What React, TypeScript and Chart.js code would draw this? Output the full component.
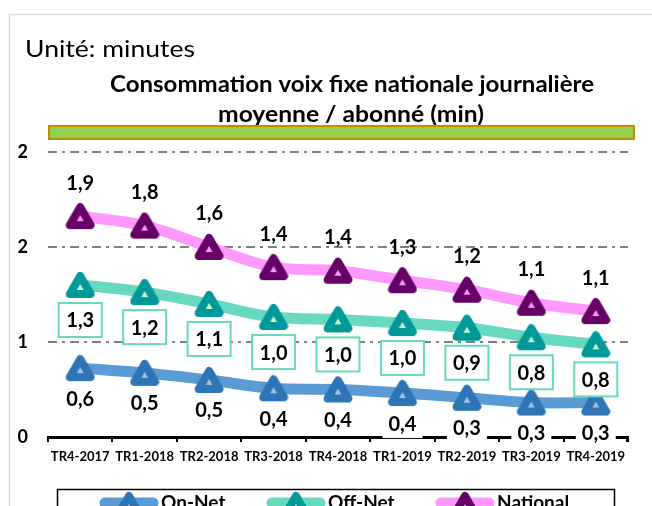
import React, { useEffect, useRef } from "react";
import { Chart, registerables } from "chart.js";

Chart.register(...registerables);

const categories = [
  "TR4-2017", "TR1-2018", "TR2-2018", "TR3-2018", "TR4-2018",
  "TR1-2019", "TR2-2019", "TR3-2019", "TR4-2019",
];
const onNet = [0.58, 0.54, 0.48, 0.41, 0.4, 0.37, 0.33, 0.29, 0.29];
const offNet = [1.28, 1.22, 1.12, 1.01, 0.99, 0.96, 0.92, 0.84, 0.78];
const national = [1.86, 1.78, 1.6, 1.43, 1.4, 1.32, 1.24, 1.13, 1.06];
const seriesNames = ["On-Net", "Off-Net", "National"];
const yMin = 0;
const yMax = 2.4;
const yStep = 0.8;
const unitText = "Unité: minutes";
const titleLines = ["Consommation voix fixe nationale journalière", "moyenne / abonné (min)"];

const FONT = "Lato, 'Noto Sans', sans-serif";

function makeMarker(border: string, fill: string): HTMLCanvasElement {
  const c = document.createElement("canvas");
  const r = 12;
  const lw = 8;
  const W = 30;
  const H = 28;
  c.width = W;
  c.height = H;
  const ctx = c.getContext("2d")!;
  const cx = W / 2;
  const cy = H / 2 + r / 4;
  ctx.beginPath();
  ctx.moveTo(cx, cy - r);
  ctx.lineTo(cx + r * 0.866, cy + r / 2);
  ctx.lineTo(cx - r * 0.866, cy + r / 2);
  ctx.closePath();
  ctx.fillStyle = fill;
  ctx.fill();
  ctx.lineJoin = "round";
  ctx.lineWidth = lw;
  ctx.strokeStyle = border;
  ctx.stroke();
  return c;
}

function drawFit(
  ctx: CanvasRenderingContext2D,
  text: string,
  x: number,
  y: number,
  w: number,
  font: string,
  align: "left" | "center"
) {
  ctx.save();
  ctx.font = font;
  ctx.fillStyle = "#000";
  ctx.textBaseline = "alphabetic";
  ctx.textAlign = "left";
  const m = ctx.measureText(text).width;
  const s = w / m;
  const left = align === "center" ? x - w / 2 : x;
  ctx.translate(left, y);
  ctx.scale(s, 1);
  ctx.fillText(text, 0, 0);
  ctx.restore();
}

const labelStyles = [
  { dy: 30, w: 40, h: 30, border: null as string | null, bg: "#ffffff" as string | null },
  { dy: 35, w: 43, h: 34, border: "#66d9bf" as string | null, bg: "#ffffff" as string | null },
  { dy: -34, w: 0, h: 0, border: null as string | null, bg: null as string | null },
];

const legendItems = [
  { x1: 100, x2: 158, tx: 161 },
  { x1: 267, x2: 325, tx: 328 },
  { x1: 436, x2: 494, tx: 497 },
];

export default function App() {
  const ref = useRef<HTMLCanvasElement | null>(null);

  useEffect(() => {
    const canvas = ref.current;
    if (!canvas) return;

    const markerOn = makeMarker("#2e75b6", "#9dc3e6");
    const markerOff = makeMarker("#009999", "#ccf5cc");
    const markerNat = makeMarker("#660066", "#ff99ff");

    const backgroundPlugin = {
      id: "bgTitle",
      beforeDraw(chart: any) {
        const ctx = chart.ctx as CanvasRenderingContext2D;
        ctx.save();
        ctx.fillStyle = "#ffffff";
        ctx.fillRect(0, 0, chart.width, chart.height);
        ctx.strokeStyle = "#d9d9d9";
        ctx.lineWidth = 1.5;
        ctx.strokeRect(9.5, 14.5, 800, 600);
        ctx.restore();
        drawFit(ctx, unitText, 25, 57, 170, `23px ${FONT}`, "left");
        drawFit(ctx, titleLines[0], 352, 92, 484, `bold 22px ${FONT}`, "center");
        drawFit(ctx, titleLines[1], 351, 122, 266, `bold 22px ${FONT}`, "center");
        ctx.save();
        ctx.fillStyle = "#92d050";
        ctx.strokeStyle = "#bf9000";
        ctx.lineWidth = 2;
        ctx.fillRect(49, 126, 585, 13);
        ctx.strokeRect(49, 126, 585, 13);
        ctx.restore();
      },
      beforeDatasetsDraw(chart: any) {
        const ctx = chart.ctx as CanvasRenderingContext2D;
        const a = chart.chartArea;
        ctx.save();
        ctx.strokeStyle = "#000";
        ctx.lineWidth = 2;
        ctx.beginPath();
        ctx.moveTo(a.right - 1, a.bottom);
        ctx.lineTo(a.right - 1, a.bottom + 5);
        ctx.stroke();
        ctx.restore();
      },
    };

    const labelPlugin = {
      id: "dataLabels",
      afterDatasetsDraw(chart: any) {
        const ctx = chart.ctx as CanvasRenderingContext2D;
        ctx.save();
        chart.data.datasets.forEach((ds: any, di: number) => {
          const meta = chart.getDatasetMeta(di);
          const st = labelStyles[di];
          meta.data.forEach((pt: any, i: number) => {
            const v = ds.data[i] as number;
            const txt = v.toFixed(1).replace(".", ",");
            const x = pt.x;
            const y = pt.y + st.dy;
            if (st.bg) {
              ctx.fillStyle = st.bg;
              ctx.fillRect(x - st.w / 2, y - st.h / 2, st.w, st.h);
            }
            if (st.border) {
              ctx.strokeStyle = st.border;
              ctx.lineWidth = 2;
              ctx.strokeRect(x - st.w / 2, y - st.h / 2, st.w, st.h);
            }
            ctx.fillStyle = "#000";
            ctx.font = `bold 20px ${FONT}`;
            ctx.textAlign = "center";
            ctx.textBaseline = "middle";
            ctx.fillText(txt, x, y + 1);
          });
        });
        ctx.restore();
      },
      afterDraw(chart: any) {
        const ctx = chart.ctx as CanvasRenderingContext2D;
        ctx.save();
        ctx.strokeStyle = "#000";
        ctx.lineWidth = 1.5;
        ctx.strokeRect(57.5, 489.5, 557, 40);
        chart.data.datasets.forEach((ds: any, di: number) => {
          const it = legendItems[di];
          ctx.strokeStyle = ds.borderColor;
          ctx.lineWidth = 11;
          ctx.lineCap = "round";
          ctx.beginPath();
          ctx.moveTo(it.x1 + 5, 503);
          ctx.lineTo(it.x2 - 5, 503);
          ctx.stroke();
          const img = ds.pointStyle as HTMLCanvasElement;
          ctx.drawImage(img, (it.x1 + it.x2) / 2 - img.width / 2, 505 - img.height / 2);
          ctx.fillStyle = "#000";
          ctx.font = `bold 19px ${FONT}`;
          ctx.textAlign = "left";
          ctx.textBaseline = "alphabetic";
          ctx.fillText(ds.label, it.tx, 509);
        });
        ctx.restore();
      },
    };

    const chart = new Chart(canvas, {
      type: "line",
      data: {
        labels: categories,
        datasets: [
          {
            label: seriesNames[0],
            data: onNet,
            borderColor: "#5b9bd5",
            backgroundColor: "#5b9bd5",
            borderWidth: 11,
            pointStyle: markerOn as any,
            pointRadius: 13,
            tension: 0.35,
            fill: false,
            order: 2,
          },
          {
            label: seriesNames[1],
            data: offNet,
            borderColor: "#66d9bf",
            backgroundColor: "#66d9bf",
            borderWidth: 11,
            pointStyle: markerOff as any,
            pointRadius: 13,
            tension: 0.35,
            fill: false,
            order: 1,
          },
          {
            label: seriesNames[2],
            data: national,
            borderColor: "#ff99ff",
            backgroundColor: "#ff99ff",
            borderWidth: 11,
            pointStyle: markerNat as any,
            pointRadius: 13,
            tension: 0.35,
            fill: false,
            order: 0,
          },
        ],
      },
      options: {
        responsive: false,
        animation: false,
        devicePixelRatio: 1,
        layout: { padding: { left: 8, right: 13, top: 152, bottom: 29 } },
        plugins: {
          legend: { display: false },
          title: { display: false },
          tooltip: { enabled: false },
        },
        scales: {
          x: {
            type: "category",
            offset: true,
            grid: {
              offset: true,
              drawOnChartArea: false,
              drawTicks: true,
              tickLength: 5,
              color: "#000",
              lineWidth: 2,
            },
            border: { color: "#000", width: 3 },
            ticks: {
              font: { family: FONT, size: 13, weight: "bold" },
              color: "#000",
              padding: 7,
              maxRotation: 0,
              autoSkip: false,
            },
            afterFit: (s: any) => {
              s.height = 40;
            },
          },
          y: {
            min: yMin,
            max: yMax,
            grid: {
              color: (c: any) => (c.tick && c.tick.value === 0 ? "rgba(0,0,0,0)" : "#7f7f7f"),
              lineWidth: 2,
              drawTicks: false,
            },
            border: { display: false, dash: [9, 5, 3, 5] },
            ticks: {
              display: true,
              stepSize: yStep,
              autoSkip: false,
              font: { family: FONT, size: 18, weight: "bold" },
              color: "#000",
              padding: 20,
              callback: (v: any) => String(Math.round(Number(v))),
            },
            afterFit: (s: any) => {
              s.width = 40;
            },
          },
        },
      },
      plugins: [backgroundPlugin, labelPlugin],
    });

    return () => chart.destroy();
  }, []);

  return (
    <div style={{ position: "absolute", left: 0, top: 0, width: 652, height: 506, overflow: "hidden" }}>
      <canvas ref={ref} width={652} height={506} style={{ display: "block", width: 652, height: 506 }} />
    </div>
  );
}
